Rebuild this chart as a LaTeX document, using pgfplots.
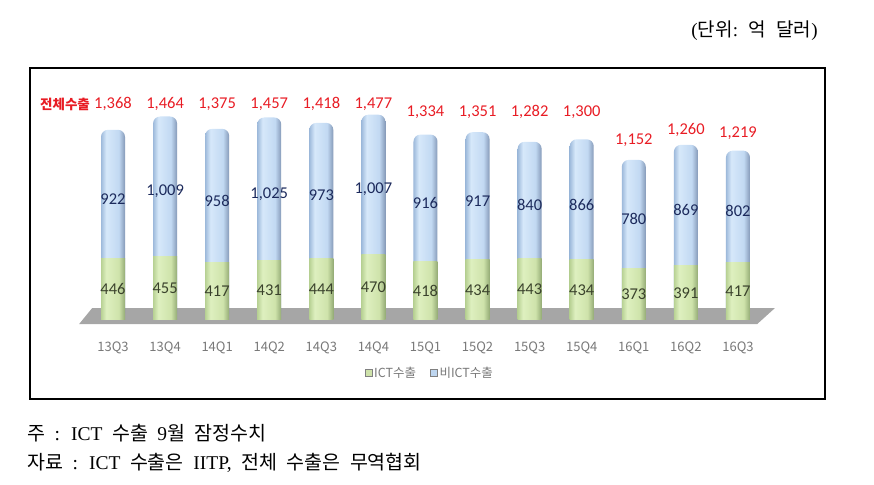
\documentclass[border=0pt]{standalone}
\usepackage{fontspec}
\usepackage{pgfplots}
\usepackage{pgfplotstable}
\pgfplotsset{compat=1.18}
\setmainfont{Liberation Serif}
\newfontfamily\kr{Noto Sans CJK KR}
\newfontfamily\calfont{Carlito}
\definecolor{redlab}{RGB}{232,28,36}
\definecolor{navylab}{RGB}{28,42,92}
\definecolor{greenlab}{RGB}{58,66,44}
\definecolor{ticklab}{RGB}{120,120,120}
\definecolor{floorc}{RGB}{166,166,166}
\definecolor{blueleg}{RGB}{190,214,240}
\definecolor{greenleg}{RGB}{206,226,170}
\pgfdeclarehorizontalshading{bluecyl}{100bp}{rgb(0bp)=(0.62,0.73,0.86); rgb(25bp)=(0.62,0.73,0.86); rgb(36bp)=(0.84,0.91,0.98); rgb(62bp)=(0.76,0.85,0.95); rgb(75bp)=(0.52,0.60,0.72); rgb(100bp)=(0.52,0.60,0.72)}
\pgfdeclarehorizontalshading{greencyl}{100bp}{rgb(0bp)=(0.72,0.82,0.58); rgb(25bp)=(0.72,0.82,0.58); rgb(36bp)=(0.87,0.94,0.75); rgb(62bp)=(0.81,0.89,0.67); rgb(75bp)=(0.58,0.67,0.46); rgb(100bp)=(0.58,0.67,0.46)}
\pgfplotstableread{
x ict non total ty nonl tl
0 446 922 1368 1554 922 1,368
1 455 1009 1464 1554 1,009 1,464
2 417 958 1375 1554 958 1,375
3 431 1025 1457 1554 1,025 1,457
4 444 973 1418 1554 973 1,418
5 470 1007 1477 1554 1,007 1,477
6 418 916 1334 1496 916 1,334
7 434 917 1351 1496 917 1,351
8 443 840 1282 1496 840 1,282
9 434 866 1300 1496 866 1,300
10 373 780 1152 1295 780 1,152
11 391 869 1260 1367 869 1,260
12 417 802 1219 1345 802 1,219
}\datatable
\begin{document}
\begin{tikzpicture}
\path (0pt,0pt) rectangle (874pt,484pt);
\draw[line width=1.3pt] (30pt,85pt) rectangle (825pt,416pt);
\node[anchor=east, inner sep=0pt, font=\fontsize{19}{22}\selectfont] at (818pt,453pt) {({\kr 단위}:\hspace{10.5pt}{\kr 억}\hspace{10.5pt}{\kr 달러})};
\node[anchor=west, inner sep=0pt, font=\fontsize{19.5}{22}\selectfont] at (27pt,51pt) {\spaceskip=9.5pt {\kr 주} : ICT {\kr 수출} 9{\kr 월} {\kr 잠정수치}};
\node[anchor=west, inner sep=0pt, font=\fontsize{19.5}{22}\selectfont] at (27pt,21pt) {\spaceskip=9.5pt {\kr 자료} : ICT {\kr 수출은} IITP, {\kr 전체} {\kr 수출은} {\kr 무역협회}};
\node[anchor=west, inner sep=0pt, text=redlab, font=\kr\bfseries\fontsize{13.5}{16}\selectfont] at (40pt,380pt) {전체수출};
\begin{axis}[
  set layers,
  anchor=south west, at={(60.92pt,158.44pt)},
  x=52.08pt, y=0.139pt,
  xmin=-1, xmax=13, ymin=-40, ymax=1600,
  clip=false,
  axis line style={draw=none},
  major tick length=0pt,
  ytick=\empty,
  xtick={0,...,12},
  xticklabels={13Q3,13Q4,14Q1,14Q2,14Q3,14Q4,15Q1,15Q2,15Q3,15Q4,16Q1,16Q2,16Q3},
  xticklabel style={font=\kr\fontsize{13}{15}\selectfont, text=ticklab, yshift=-13pt},
  legend style={at={(0.506,-0.208)}, anchor=center, draw=none, fill=none, legend columns=2,
    font=\kr\fontsize{12.5}{14}\selectfont, text=ticklab,
    /tikz/every even column/.append style={column sep=12pt}},
  legend image code/.code={\draw[#1] (0pt,-3.5pt) rectangle (7pt,3.5pt);},
]
\begin{pgfonlayer}{axis background}
\fill[floorc] (axis cs:-0.65,-29) -- (axis cs:12.37,-29) -- (axis cs:12.71,86) -- (axis cs:-0.40,86) -- cycle;
\end{pgfonlayer}
\addlegendimage{fill=greenleg, draw=gray}
\addlegendentry{ICT수출}
\addlegendimage{fill=blueleg, draw=gray}
\addlegendentry{비ICT수출}
\pgfplotsinvokeforeach{0,...,12}{
\addplot[forget plot, ybar, bar width=24pt, bar shift=0pt, draw=none, shading=bluecyl, shade, rounded corners=7pt, restrict x to domain=#1:#1] table[x=x, y=total] {\datatable};
}
\pgfplotsinvokeforeach{0,...,12}{
\addplot[forget plot, ybar, bar width=24pt, bar shift=0pt, draw=none, shading=greencyl, shade, restrict x to domain=#1:#1] table[x=x, y=ict] {\datatable};
}
\addplot[forget plot, draw=none, mark=none, nodes near coords, point meta=explicit symbolic,
  every node near coord/.append style={anchor=center, text=greenlab, font=\calfont\fontsize{16.5}{18}\selectfont}]
  table[x=x, y expr=\thisrow{ict}/2, meta=ict] {\datatable};
\addplot[forget plot, draw=none, mark=none, nodes near coords, point meta=explicit symbolic,
  every node near coord/.append style={anchor=center, text=navylab, font=\calfont\fontsize{16.5}{18}\selectfont}]
  table[x=x, y expr=\thisrow{ict}+\thisrow{non}/2-36, meta=nonl] {\datatable};
\addplot[forget plot, draw=none, mark=none, nodes near coords, point meta=explicit symbolic,
  every node near coord/.append style={anchor=center, text=redlab, font=\calfont\fontsize{16.5}{18}\selectfont}]
  table[x=x, y=ty, meta=tl] {\datatable};
\end{axis}
\end{tikzpicture}
\end{document}
